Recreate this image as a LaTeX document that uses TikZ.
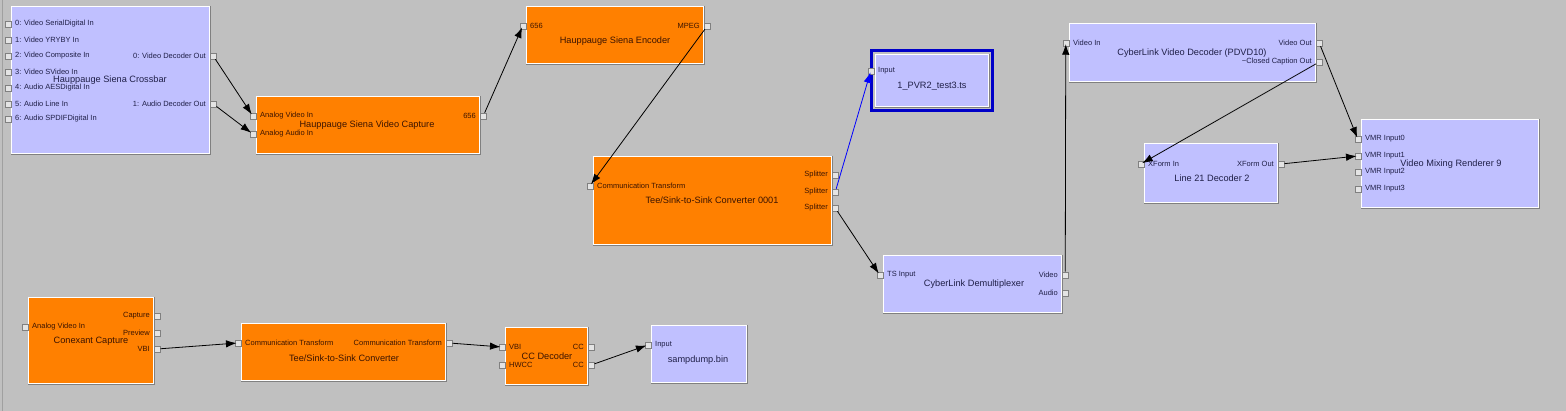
\documentclass[tikz,border=0pt]{standalone}
\usepackage{fontspec}
\setmainfont{Liberation Sans}
\usetikzlibrary{arrows.meta,fit}
\definecolor{bg}{HTML}{C0C0C0}
\definecolor{lav}{HTML}{C0C0FF}
\definecolor{org}{HTML}{FF8000}
\definecolor{txtO}{HTML}{3C1400}
\definecolor{txtL}{HTML}{202048}
\definecolor{darkgray}{HTML}{808080}
\definecolor{pinfill}{HTML}{E4E4E4}
\definecolor{selblue}{HTML}{0000C8}
\definecolor{wireblue}{HTML}{0000FF}
\definecolor{edgegray}{HTML}{A0A0A0}
\colorlet{txt}{txtL}
\tikzset{
  filtbox/.style={inner sep=0pt, fill=#1},
  pinbox/.style={draw=darkgray, fill=pinfill, minimum size=6pt, inner sep=0pt, line width=.5pt},
  plabel/.style={font=\fontsize{7.5}{8}\selectfont, inner sep=0pt, text=txt},
  ftitle/.style={font=\fontsize{9.2}{10}\selectfont, inner sep=0pt, text=txt},
  conn/.style={line width=.8pt, -{Latex[length=10.5pt,width=7.5pt]}, shorten >=-2pt},
}
\newcommand\filt[6]{%
  \node[fit={(#2,#3) (#4,#5)}, filtbox=#6] (#1) {};
  \draw[white, line width=1.5pt] ([shift={(.75pt,.75pt)}]#1.south west) rectangle ([shift={(-.75pt,-.75pt)}]#1.north east);
  \draw[darkgray, line width=1pt] ([shift={(.5pt,0pt)}]#1.north east) -- ([shift={(.5pt,-.5pt)}]#1.south east) -- ([shift={(0pt,-.5pt)}]#1.south west);
}
\newcommand\ipin[4]{%
  \node[pinbox, anchor=east] (#1) at (#2,#3) {};
  \node[plabel, anchor=west] (#1-t) at (#2+4,#3) {#4};
}
\newcommand\opin[4]{%
  \node[pinbox, anchor=west] (#1) at (#2,#3) {};
  \node[plabel, anchor=east] (#1-t) at (#2-4,#3) {#4};
}
\begin{document}
\begin{tikzpicture}[x=1pt,y=-1pt]
\useasboundingbox (0,0) rectangle (1566,411);
\fill[bg] (0,0) rectangle (1566,411);
\draw[edgegray, line width=1pt] (2,0) -- (2,411);

% Crossbar
\colorlet{txt}{txtL}
\filt{xb}{11}{6}{210}{154}{lav}
\ipin{xb-i0}{11}{24}{0: Video SerialDigital In}
\ipin{xb-i1}{11}{40}{1: Video YRYBY In}
\ipin{xb-i2}{11}{56}{2: Video Composite In}
\ipin{xb-i3}{11}{72}{3: Video SVideo In}
\ipin{xb-i4}{11}{88}{4: Audio AESDigital In}
\ipin{xb-i5}{11}{104}{5: Audio Line In}
\ipin{xb-i6}{11}{119}{6: Audio SPDIFDigital In}
\opin{xb-o0}{210}{56}{0: Video Decoder Out}
\opin{xb-o1}{210}{104}{1: Audio Decoder Out}
\node[ftitle] (xb-title) at (110,80) {Hauppauge Siena Crossbar};

% Video Capture
\colorlet{txt}{txtO}
\filt{cap}{256}{96}{480}{154}{org}
\ipin{cap-i0}{256}{116}{Analog Video In}
\ipin{cap-i1}{256}{134}{Analog Audio In}
\opin{cap-o0}{480}{116}{656}
\node[ftitle] (cap-title) at (367,125) {Hauppauge Siena Video Capture};

% Encoder
\filt{enc}{526}{6}{704}{64}{org}
\ipin{enc-i0}{526}{26}{656}
\opin{enc-o0}{704}{26}{MPEG}
\node[ftitle] (enc-title) at (615,41) {Hauppauge Siena Encoder};

% Tee 0001
\filt{tee1}{593}{156}{832}{245}{org}
\ipin{tee1-i0}{593}{186}{Communication Transform}
\opin{tee1-o0}{832}{175}{Splitter}
\opin{tee1-o1}{832}{192}{Splitter}
\opin{tee1-o2}{832}{208}{Splitter}
\node[ftitle] (tee1-title) at (712,200) {Tee/Sink-to-Sink Converter 0001};

% File writer (selected)
\colorlet{txt}{txtL}
\draw[selblue, line width=3pt] (871.5,50.5) rectangle (992.5,110.5);
\filt{fw}{875}{54}{989}{107}{lav}
\ipin{fw-i0}{874}{71}{Input}
\node[ftitle] (fw-title) at (932,86) {1\_PVR2\_test3.ts};

% Video Decoder
\filt{dec}{1069}{23}{1316}{82}{lav}
\ipin{dec-i0}{1069}{43}{Video In}
\opin{dec-o0}{1316}{43}{Video Out}
\opin{dec-o1}{1316}{62}{\textasciitilde Closed Caption Out}
\node[ftitle] (dec-title) at (1192,53) {CyberLink Video Decoder (PDVD10)};

% Line 21
\filt{l21}{1144}{143}{1278}{203}{lav}
\ipin{l21-i0}{1144}{164}{XForm In}
\opin{l21-o0}{1278}{164}{XForm Out}
\node[ftitle] (l21-title) at (1212,178) {Line 21 Decoder 2};

% VMR
\filt{vmr}{1361}{119}{1539}{208}{lav}
\ipin{vmr-i0}{1361}{139}{VMR Input0}
\ipin{vmr-i1}{1361}{156}{VMR Input1}
\ipin{vmr-i2}{1361}{172}{VMR Input2}
\ipin{vmr-i3}{1361}{189}{VMR Input3}
\node[ftitle] (vmr-title) at (1451,164) {Video Mixing Renderer 9};

% Demux
\filt{dmx}{883}{255}{1062}{313}{lav}
\ipin{dmx-i0}{883}{275}{TS Input}
\opin{dmx-o0}{1062}{275}{Video}
\opin{dmx-o1}{1062}{293}{Audio}
\node[ftitle] (dmx-title) at (974,284) {CyberLink Demultiplexer};

% Conexant
\colorlet{txt}{txtO}
\filt{cnx}{28}{297}{154}{384}{org}
\ipin{cnx-i0}{28}{327}{Analog Video In}
\opin{cnx-o0}{154}{316}{Capture}
\opin{cnx-o1}{154}{333}{Preview}
\opin{cnx-o2}{154}{349}{VBI}
\node[ftitle] (cnx-title) at (91,341) {Conexant Capture};

% Tee
\filt{tee2}{241}{323}{446}{381}{org}
\ipin{tee2-i0}{241}{343}{Communication Transform}
\opin{tee2-o0}{446}{343}{Communication Transform}
\node[ftitle] (tee2-title) at (344,358) {Tee/Sink-to-Sink Converter};

% CC Decoder
\filt{ccd}{505}{327}{588}{385}{org}
\ipin{ccd-i0}{505}{347}{VBI}
\ipin{ccd-i1}{505}{365}{HWCC}
\opin{ccd-o0}{588}{347}{CC}
\opin{ccd-o1}{588}{365}{CC}
\node[ftitle] (ccd-title) at (547,356) {CC Decoder};

% sampdump
\colorlet{txt}{txtL}
\filt{sd}{651}{325}{747}{383}{lav}
\ipin{sd-i0}{651}{345}{Input}
\node[ftitle] (sd-title) at (698,360) {sampdump.bin};

% Connectors
\draw[conn] (xb-o0) -- (cap-i0);
\draw[conn] (xb-o1) -- (cap-i1);
\draw[conn] (cap-o0) -- (enc-i0);
\draw[conn] (enc-o0) -- (tee1-i0);
\draw[conn, wireblue] (tee1-o1) -- (fw-i0);
\draw[conn] (tee1-o2) -- (dmx-i0);
\draw[conn] (dmx-o0) -- (dec-i0);
\draw[conn] (dec-o0) -- (vmr-i0);
\draw[conn] (dec-o1) -- (l21-i0);
\draw[conn] (l21-o0) -- (vmr-i1);
\draw[conn] (cnx-o2) -- (tee2-i0);
\draw[conn] (tee2-o0) -- (ccd-i0);
\draw[conn] (ccd-o1) -- (sd-i0);
\end{tikzpicture}
\end{document}
